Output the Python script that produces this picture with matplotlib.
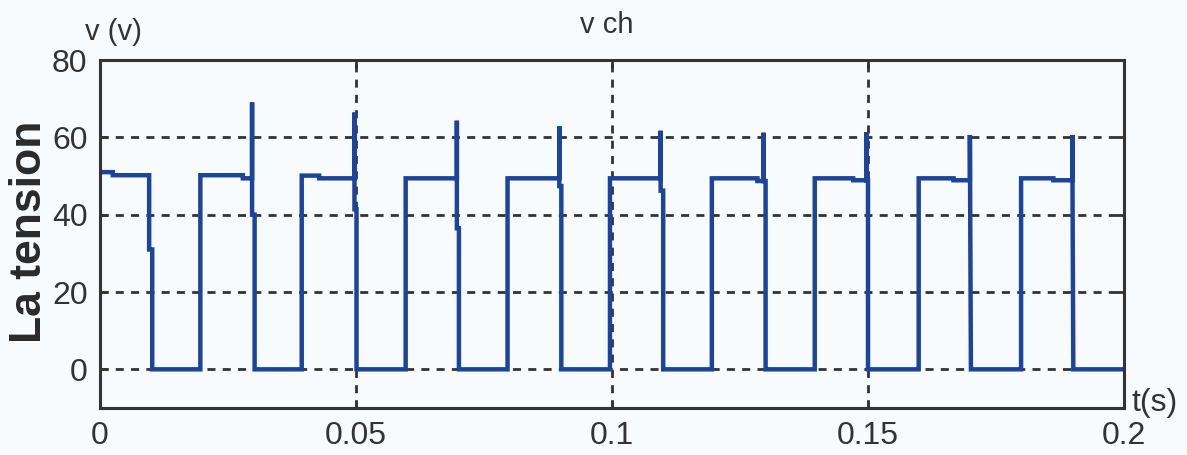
import matplotlib
matplotlib.use("Agg")
import matplotlib.pyplot as plt
import numpy as np

# --- data (step waveform vertices) ---
t_pts = [0.0, 0.0025, 0.0025, 0.0096, 0.0096, 0.0102, 0.0102,
         0.0196, 0.0196, 0.0279, 0.0279, 0.0297, 0.0297, 0.0297, 0.0302, 0.0302,
         0.0394, 0.0394, 0.0428, 0.0428, 0.0497, 0.0497, 0.0497, 0.0501, 0.0501,
         0.0597, 0.0597, 0.0697, 0.0697, 0.0697, 0.0701, 0.0701,
         0.0796, 0.0796, 0.0897, 0.0897, 0.0897, 0.0901, 0.0901,
         0.0996, 0.0996, 0.1095, 0.1095, 0.1095, 0.1100, 0.1100,
         0.1195, 0.1195, 0.1284, 0.1284, 0.1296, 0.1296, 0.1296, 0.1300, 0.1300,
         0.1396, 0.1396, 0.1471, 0.1471, 0.1497, 0.1497, 0.1497, 0.1500, 0.1500,
         0.1599, 0.1599, 0.1667, 0.1667, 0.1699, 0.1699, 0.1701,
         0.1799, 0.1799, 0.1862, 0.1862, 0.1899, 0.1899, 0.1901,
         0.2000]
v_pts = [51.0, 51.0, 50.2, 50.2, 31.0, 31.0, 0.0,
         0.0, 50.2, 50.2, 49.4, 49.4, 69.0, 40.0, 40.0, 0.0,
         0.0, 50.1, 50.1, 49.4, 49.4, 66.4, 41.4, 41.4, 0.0,
         0.0, 49.4, 49.4, 64.3, 36.5, 36.5, 0.0,
         0.0, 49.4, 49.4, 62.9, 47.4, 47.4, 0.0,
         0.0, 49.4, 49.4, 61.7, 46.2, 46.2, 0.0,
         0.0, 49.4, 49.4, 48.7, 48.7, 61.2, 48.7, 48.7, 0.0,
         0.0, 49.4, 49.4, 48.9, 48.9, 61.3, 48.9, 48.9, 0.0,
         0.0, 49.4, 49.4, 48.9, 48.9, 60.6, 0.0,
         0.0, 49.4, 49.4, 48.9, 48.9, 60.6, 0.0,
         0.0]

x_ticks = [0, 0.05, 0.1, 0.15, 0.2]
x_tick_labels = ["0", "0.05", "0.1", "0.15", "0.2"]
y_ticks = [0, 20, 40, 60, 80]
y_tick_labels = ["0", "20", "40", "60", "80"]

title_text = "v ch"
y_unit_text = "v (v)"
x_unit_text = "t(s)"
ylabel_text = "La tension"

# --- style ---
W, H = 1187, 455
DPI = 100
bg = "#f7fbfd"
ink = "#333333"
line_col = "#1b449a"

plt.rcParams['font.family'] = ['Liberation Sans', 'DejaVu Sans']

fig = plt.figure(figsize=(W / DPI, H / DPI), dpi=DPI, facecolor=bg)
ax = fig.add_axes([100 / W, 1 - 408 / H, 1024 / W, 348 / H], facecolor=bg)

ax.plot(t_pts, v_pts, color=line_col, lw=3.2, solid_joinstyle='miter', zorder=3)

ax.set_xlim(0, 0.2)
ax.set_ylim(-10, 80)
ax.set_xticks(x_ticks)
ax.set_xticklabels(x_tick_labels)
ax.set_yticks(y_ticks)
ax.set_yticklabels(y_tick_labels)

ax.grid(True, color=ink, lw=2.0, linestyle=(0, (2.9, 2.6)), zorder=1)
ax.tick_params(direction='in', length=6, width=2, color=ink, labelcolor=ink,
               labelsize=23, top=True, right=True, pad=9)
for s in ax.spines.values():
    s.set_color(ink)
    s.set_linewidth(2.2)
    s.set_zorder(4)

fig.text(607 / W, 1 - 33 / H, title_text, ha='center', va='baseline',
         fontsize=21, color=ink)
fig.text(85 / W, 1 - 40 / H, y_unit_text, ha='left', va='baseline',
         fontsize=21, color=ink)
fig.text(1132 / W, 1 - 411 / H, x_unit_text, ha='left', va='baseline',
         fontsize=23, color=ink)
fig.text(30 / W, 1 - 232 / H, ylabel_text, ha='center', va='center',
         rotation=90, fontsize=32, fontweight='bold', color="#2a2a2a")

fig.savefig("out.png", dpi=DPI, facecolor=bg)
